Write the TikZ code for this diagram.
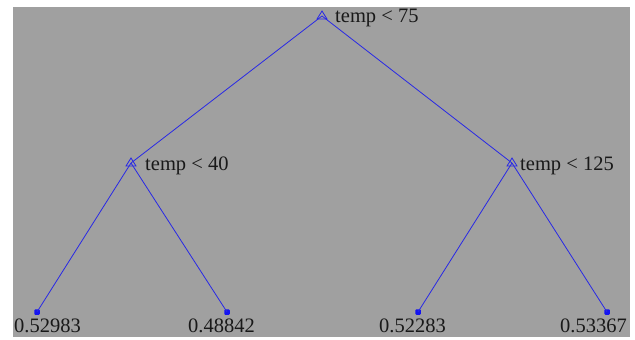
\documentclass[tikz,border=0pt]{standalone}
\usepackage{fontspec}
\setmainfont{Liberation Serif}
\usetikzlibrary{calc}
\definecolor{bgray}{RGB}{160,160,160}
\definecolor{eblue}{RGB}{40,40,230}
\definecolor{lblue}{RGB}{20,20,240}
\definecolor{txt}{RGB}{25,25,25}
\begin{document}
\begin{tikzpicture}[x=1pt,y=-1pt,
  edge/.style={draw=eblue,line width=0.8pt},
  leaf/.style={fill=lblue,rectangle,rounded corners=1pt,minimum size=5.5pt,inner sep=0pt},
  lbl/.style={font=\fontsize{20.5}{21}\selectfont,text=txt,inner sep=0pt,anchor=base west}]
\useasboundingbox (0,0) rectangle (635,340);
\fill[white] (0,0) rectangle (635,340);
\fill[bgray] (13,7) rectangle (630,337);
% nodes
\coordinate (r) at (322,16);
\coordinate (a) at (131,163);
\coordinate (b) at (512,163);
\node[leaf] (l1) at (37,312) {};
\node[leaf] (l2) at (227,312) {};
\node[leaf] (l3) at (418,312) {};
\node[leaf] (l4) at (607,312) {};
% edges
\draw[edge] (r) -- (a);
\draw[edge] (r) -- (b);
\draw[edge] (a) -- (l1.center);
\draw[edge] (a) -- (l2.center);
\draw[edge] (b) -- (l3.center);
\draw[edge] (b) -- (l4.center);
% triangles
\draw[edge] ($(r)+(0,-5)$) -- ($(r)+(5,3)$) -- ($(r)+(-5,3)$) -- cycle;
\draw[edge] ($(a)+(0,-5)$) -- ($(a)+(5,3)$) -- ($(a)+(-5,3)$) -- cycle;
\draw[edge] ($(b)+(0,-5)$) -- ($(b)+(5,3)$) -- ($(b)+(-5,3)$) -- cycle;
% labels
\node[lbl] (tr) at (335,23) {temp < 75};
\node[lbl] (ta) at (145,170) {temp < 40};
\node[lbl] (tb) at (520,170) {temp < 125};
\node[lbl] (t1) at (14,332) {0.52983};
\node[lbl] (t2) at (188,332) {0.48842};
\node[lbl] (t3) at (379,332) {0.52283};
\node[lbl] (t4) at (560,332) {0.53367};
\end{tikzpicture}
\end{document}
